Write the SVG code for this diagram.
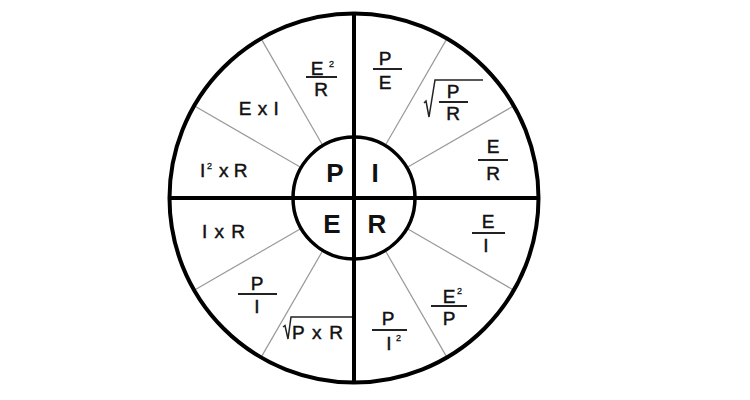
<svg xmlns="http://www.w3.org/2000/svg" width="750" height="400" viewBox="0 0 750 400">
<style>
.t{font-family:"Liberation Sans",Arial,sans-serif;font-size:19px;fill:#111;stroke:#111;stroke-width:0.45}
.m{text-anchor:middle}
.s{font-family:"Liberation Sans",Arial,sans-serif;font-size:9px;fill:#111;stroke:#111;stroke-width:0.3}
.big{font-family:"Liberation Sans",Arial,sans-serif;font-size:26px;font-weight:bold;fill:#111;text-anchor:middle}
.fl{stroke:#222;stroke-width:2}
.rad{stroke:#222;stroke-width:1.5;fill:none;stroke-linejoin:miter}
.sp{stroke:#999;stroke-width:1.2}
.thick{stroke:#000;stroke-width:4;fill:none}
</style>
<rect width="750" height="400" fill="#fff"/>
<g id="connectors">
  <g class="sp">
    <line x1="301.0" y1="167.5" x2="194.6" y2="106.0"/>
    <line x1="322.5" y1="145.0" x2="261.5" y2="39.4"/>
    <line x1="385.5" y1="145.0" x2="446.5" y2="39.4"/>
    <line x1="407.0" y1="167.5" x2="513.4" y2="106.0"/>
    <line x1="407.0" y1="228.5" x2="513.4" y2="290.0"/>
    <line x1="385.5" y1="251.0" x2="446.5" y2="356.6"/>
    <line x1="322.5" y1="251.0" x2="261.5" y2="356.6"/>
    <line x1="301.0" y1="228.5" x2="194.6" y2="290.0"/>
  </g>
  <line class="thick" x1="170" y1="198" x2="538" y2="198"/>
  <line class="thick" x1="354" y1="13" x2="354" y2="383"/>
  <circle class="thick" cx="354" cy="198" r="184.5"/>
  <circle cx="354" cy="198" r="61" fill="none" stroke="#000" stroke-width="3.5"/>
</g>
<g id="center">
  <text class="big" x="335" y="182">P</text>
  <text class="big" x="375" y="182">I</text>
  <text class="big" x="332" y="233">E</text>
  <text class="big" x="377" y="233">R</text>
</g>
<g id="E2-R">
  <text class="t m" x="317" y="75">E</text><text class="s" x="329" y="67">2</text>
  <line class="fl" x1="306" y1="77" x2="337" y2="77"/>
  <text class="t m" x="321" y="96">R</text>
</g>
<g id="ExI">
  <text class="t m" x="259" y="115" letter-spacing="0.5">E x I</text>
</g>
<g id="I2xR">
  <text class="t" x="200" y="177">I</text><text class="s" x="207" y="169">2</text><text class="t" x="219" y="177">x R</text>
</g>
<g id="IxR">
  <text class="t m" x="224" y="238" letter-spacing="1">I x R</text>
</g>
<g id="P-I">
  <text class="t m" x="257" y="290">P</text>
  <line class="fl" x1="238" y1="294" x2="277" y2="294"/>
  <text class="t m" x="257" y="313">I</text>
</g>
<g id="sqrtPxR">
  <path class="rad" d="M283,327 L285,325.5 L288,339 L291,317 L352,317"/>
  <text class="t" x="292" y="339" letter-spacing="1.2">P x R</text>
</g>
<g id="P-E">
  <text class="t m" x="385" y="65">P</text>
  <line class="fl" x1="373" y1="69" x2="402" y2="69"/>
  <text class="t m" x="385" y="89">E</text>
</g>
<g id="sqrtP-R">
  <path class="rad" d="M424,103 L426,101 L429,117 L435,80 L483,80"/>
  <text class="t m" x="453" y="98">P</text>
  <line class="fl" x1="439" y1="102" x2="468" y2="102"/>
  <text class="t m" x="453" y="120">R</text>
</g>
<g id="E-R">
  <text class="t m" x="493" y="153">E</text>
  <line class="fl" x1="478" y1="160" x2="508" y2="160"/>
  <text class="t m" x="493" y="180">R</text>
</g>
<g id="E-I">
  <text class="t m" x="488" y="228">E</text>
  <line class="fl" x1="472" y1="233" x2="505" y2="233"/>
  <text class="t m" x="486" y="252">I</text>
</g>
<g id="E2-P">
  <text class="t m" x="449" y="303">E</text><text class="s" x="457" y="294">2</text>
  <line class="fl" x1="431" y1="306" x2="467" y2="306"/>
  <text class="t m" x="449" y="325">P</text>
</g>
<g id="P-I2">
  <text class="t m" x="388" y="325">P</text>
  <line class="fl" x1="372" y1="330" x2="407" y2="330"/>
  <text class="t m" x="389" y="350">I</text><text class="s" x="396" y="341">2</text>
</g>
</svg>
